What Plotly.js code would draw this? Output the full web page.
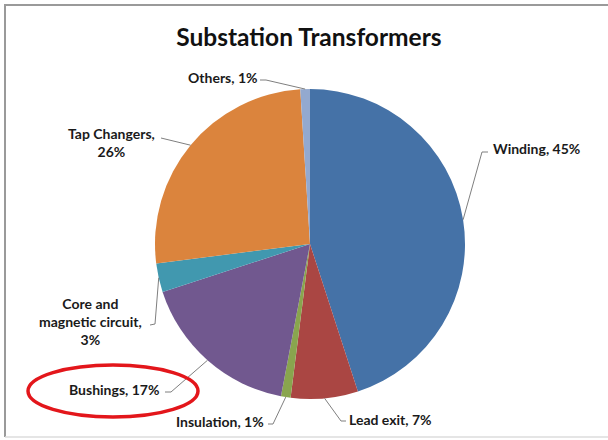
<!DOCTYPE html>
<html>
<head>
<meta charset="utf-8">
<script src="https://cdn.plot.ly/plotly-3.0.1.min.js"></script>
<style>html,body{margin:0;padding:0;background:#fff}#chart{width:608px;height:440px}</style>
</head>
<body>
<div id="chart"></div>
<script>
// ---- data ----
const categories = ["Winding", "Lead exit", "Insulation", "Bushings", "Core and magnetic circuit", "Tap Changers", "Others"];
const labelTexts = ["Winding, 45%", "Lead exit, 7%", "Insulation, 1%", "Bushings, 17%", "Core and<br>magnetic circuit,<br>3%", "Tap Changers,<br>26%", "Others, 1%"];
const shares = [45, 7, 1, 17, 3, 26, 1];
const sliceColors = ["#4572A7", "#AA4643", "#89A54E", "#71588F", "#4198AF", "#DB843D", "#93A9CF"];

// ---- layout config (pixels) ----
const W = 608, H = 440;
const cx = 310, cy = 244, R = 155;
const labelPlace = [
  {x: 491, y: 148, xa: "left",   elbow: [482, 152], tick: [488, 152]},
  {x: 347, y: 419, xa: "left",   elbow: [341, 421], tick: [346, 421]},
  {x: 266, y: 421, xa: "right",  elbow: [273, 424], tick: [268, 424]},
  {x: 161, y: 389, xa: "right",  elbow: [171, 392], tick: [165, 392]},
  {x: 90,  y: 321, xa: "center", elbow: [155, 324], tick: [150, 325]},
  {x: 111, y: 143, xa: "center", elbow: [161, 138], tick: [161, 138]},
  {x: 223, y: 77,  xa: "center", elbow: [266, 80],  tick: [260, 80]}
];

const px = v => v / W;
const py = v => 1 - v / H;

const total = shares.reduce((a, b) => a + b, 0);
let cum = 0;
const anchors = shares.map(v => {
  const mid = (cum + v / 2) / total * 2 * Math.PI;
  cum += v;
  return [cx + R * Math.sin(mid), cy - R * Math.cos(mid)];
});

const font = "Lato, 'Open Sans', sans-serif";
const annotations = labelTexts.map((t, i) => ({
  text: "<b>" + t + "</b>",
  x: px(labelPlace[i].x), y: py(labelPlace[i].y),
  xref: "paper", yref: "paper",
  xanchor: labelPlace[i].xa, yanchor: "middle",
  showarrow: false, align: "center",
  font: {family: font, size: 14, color: "#1a1a1a"}
}));

const shapes = [];
anchors.forEach((a, i) => {
  const e = labelPlace[i].elbow, k = labelPlace[i].tick;
  shapes.push({
    type: "path", xref: "paper", yref: "paper",
    path: `M ${px(a[0])} ${py(a[1])} L ${px(e[0])} ${py(e[1])} L ${px(k[0])} ${py(k[1])}`,
    line: {color: "#7f7f7f", width: 1}
  });
});
// frame
shapes.push({type: "line", xref: "paper", yref: "paper", x0: px(4), x1: 1, y0: py(5), y1: py(5), line: {color: "#9a9a9a", width: 2}});
shapes.push({type: "line", xref: "paper", yref: "paper", x0: px(5), x1: px(5), y0: py(4), y1: py(437), line: {color: "#9a9a9a", width: 2}});
shapes.push({type: "line", xref: "paper", yref: "paper", x0: px(5), x1: 1, y0: py(437), y1: py(437), line: {color: "#dcdcdc", width: 1.5}});
// red highlight ellipse around Bushings label
shapes.push({type: "circle", xref: "paper", yref: "paper", x0: px(28), x1: px(198), y0: py(417), y1: py(365), line: {color: "#E3161B", width: 3.5}});

const trace = {
  type: "pie",
  labels: categories,
  values: shares,
  sort: false,
  direction: "clockwise",
  rotation: 0,
  textinfo: "none",
  hoverinfo: "label+percent",
  marker: {colors: sliceColors, line: {width: 0}},
  domain: {x: [px(cx - R), px(cx + R)], y: [py(cy + R), py(cy - R)]},
  showlegend: false
};

const layout = {
  width: W, height: H,
  margin: {l: 0, r: 0, t: 0, b: 0},
  paper_bgcolor: "#ffffff",
  title: {text: "<b>Substation Transformers</b>", x: 0.508, xanchor: "center", y: py(37), yanchor: "middle",
          font: {family: font, size: 24.5, color: "#111"}},
  annotations: annotations,
  shapes: shapes,
  showlegend: false
};

Plotly.newPlot("chart", [trace], layout, {displayModeBar: false, staticPlot: true});
</script>
</body>
</html>
